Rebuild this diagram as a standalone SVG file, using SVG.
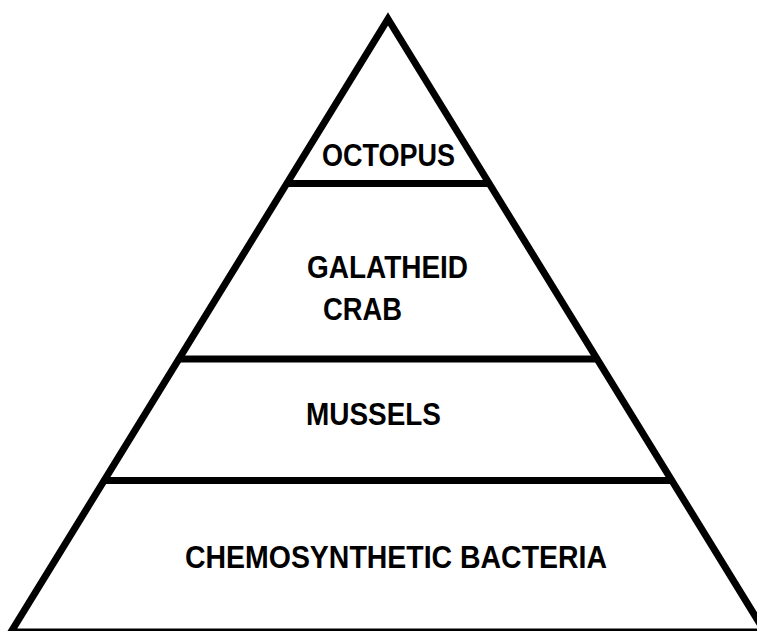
<svg xmlns="http://www.w3.org/2000/svg" width="757" height="631" viewBox="0 0 757 631">
<style>
.ln{stroke:#000;stroke-width:7;fill:none;stroke-linejoin:miter;stroke-miterlimit:10}
.t{font-family:"Liberation Sans Narrow","Liberation Sans",Arial,sans-serif;font-weight:bold;font-size:32px;fill:#000}
</style>
<rect width="757" height="631" fill="#fff"/>
<g id="connectors">
<polygon class="ln" points="388,19 765,632 11,632"/>
<line class="ln" x1="287" y1="183.5" x2="489" y2="183.5"/>
<line class="ln" x1="179" y1="359" x2="597" y2="359"/>
<line class="ln" x1="104" y1="480.5" x2="672" y2="480.5"/>
</g>
<g id="octopus"><text class="t" x="322" y="166" textLength="133" lengthAdjust="spacingAndGlyphs">OCTOPUS</text></g>
<g id="galatheid-crab">
<text class="t" x="307" y="278" textLength="161" lengthAdjust="spacingAndGlyphs">GALATHEID</text>
<text class="t" x="323" y="320" textLength="79" lengthAdjust="spacingAndGlyphs">CRAB</text>
</g>
<g id="mussels"><text class="t" x="306" y="425" textLength="135" lengthAdjust="spacingAndGlyphs">MUSSELS</text></g>
<g id="bacteria"><text class="t" x="185" y="568" textLength="422" lengthAdjust="spacingAndGlyphs">CHEMOSYNTHETIC BACTERIA</text></g>
</svg>
